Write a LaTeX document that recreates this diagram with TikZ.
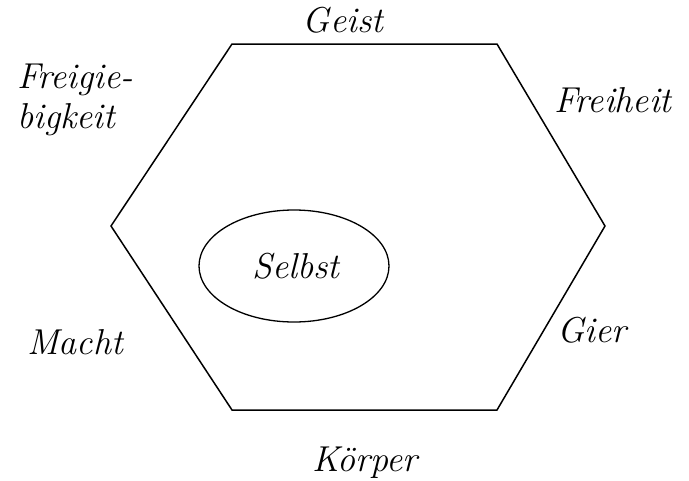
\documentclass[tikz,border=0pt]{standalone}
\usetikzlibrary{shapes.geometric}
\begin{document}
\begin{tikzpicture}[x=1pt,y=-1pt,
  lbl/.style={font=\fontsize{36}{40}\selectfont\itshape, inner sep=0pt},
  edge/.style={line width=1.5pt, line join=miter}]
\useasboundingbox (0,0) rectangle (689,480);
\coordinate (tl) at (232,44);
\coordinate (tr) at (497,44);
\coordinate (r) at (605,226);
\coordinate (br) at (497,410);
\coordinate (bl) at (232,410);
\coordinate (l) at (111,226);
\draw[edge] (tl) -- (tr) -- (r) -- (br) -- (bl) -- (l) -- cycle;
\node[draw, line width=1.3pt, ellipse, minimum width=190, minimum height=112, inner sep=0pt] (selbstbox) at (294,266) {};
\node[lbl] (selbst) at (296,266) {Selbst};
\node[lbl] (geist) at (343,20) {Geist};
\node[lbl] (freiheit) at (613,100) {Freiheit};
\node[lbl, align=left, anchor=west] (freig) at (17,100) {Freigie-\\bigkeit};
\node[lbl] (macht) at (75,342) {Macht};
\node[lbl] (gier) at (592,330) {Gier};
\node[lbl] (koerper) at (365,463) {Körper};
\end{tikzpicture}
\end{document}
